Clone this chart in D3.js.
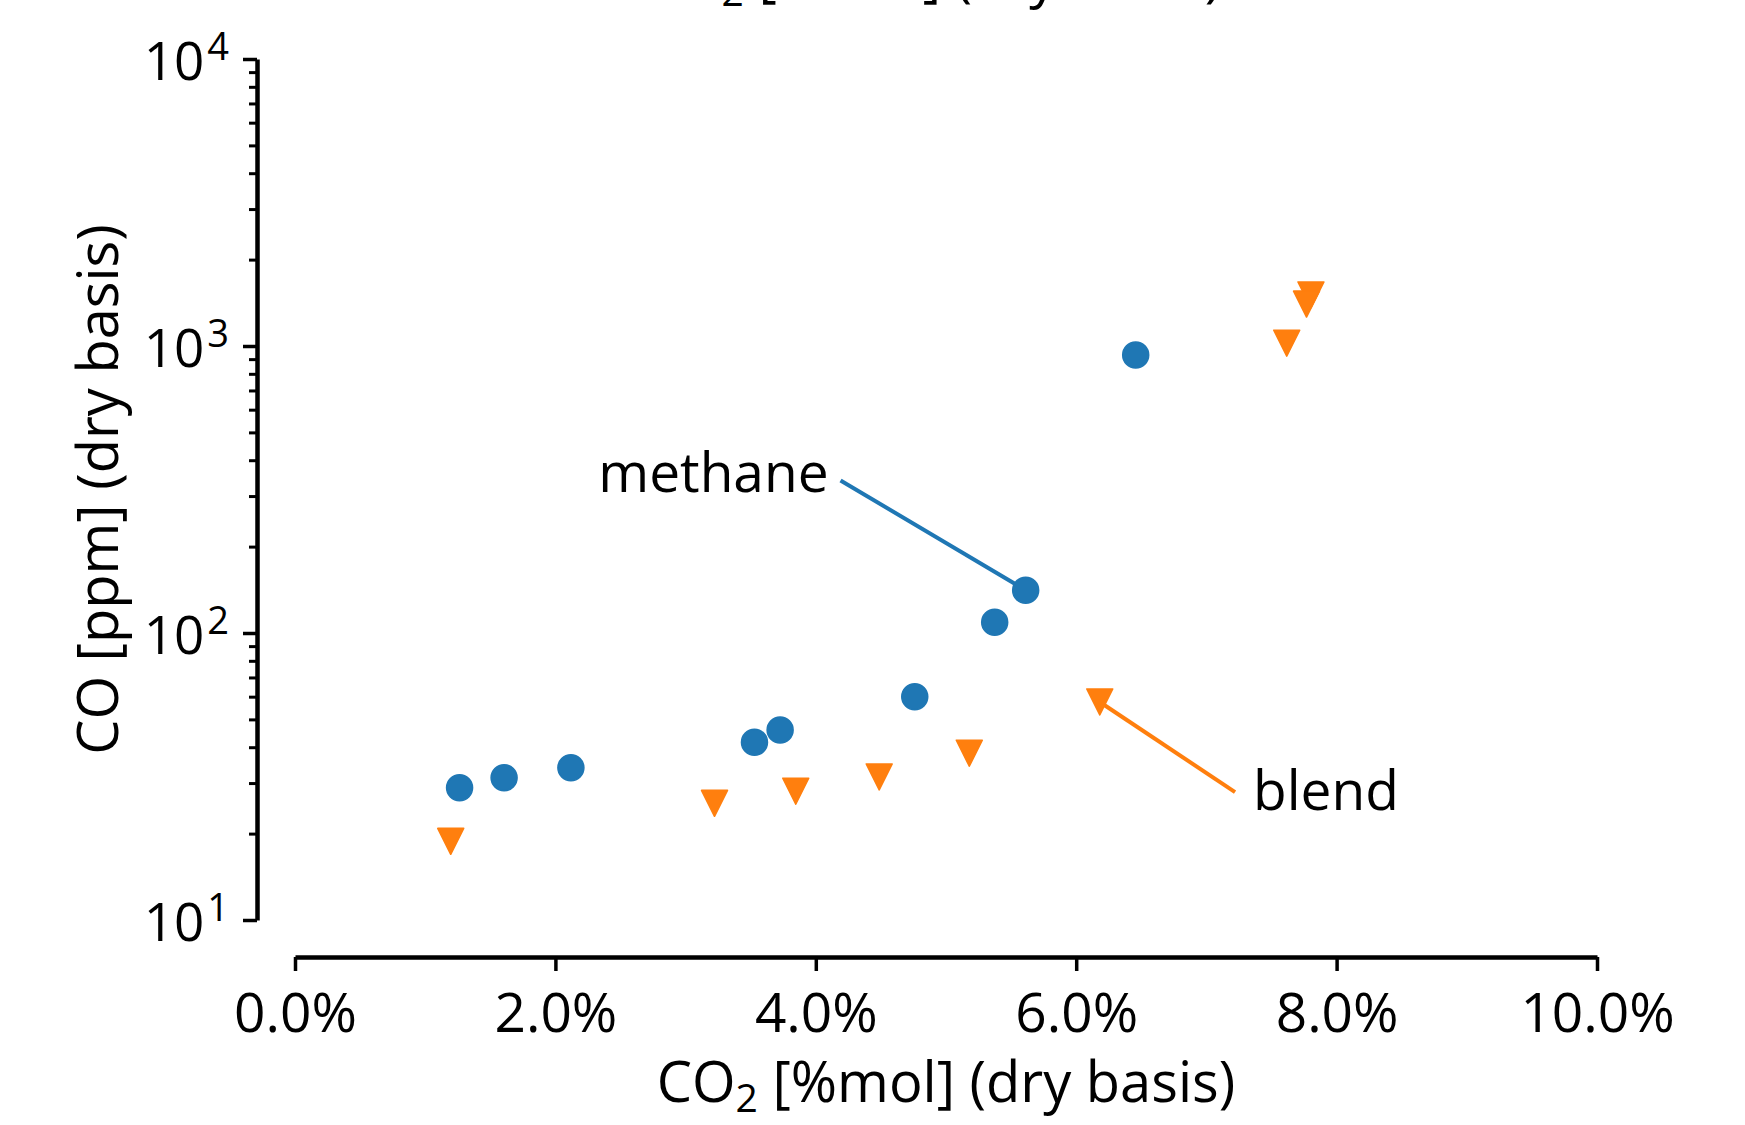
<!DOCTYPE html>
<html>
<head>
<meta charset="utf-8">
<script src="https://cdn.jsdelivr.net/npm/d3@7"></script>
<style>
  html, body { margin: 0; padding: 0; background: #fff; }
  svg { display: block; font-family: "Open Sans", "Noto Sans", sans-serif; }
</style>
</head>
<body>
<svg id="chart" width="1745" height="1125"></svg>
<script>
// CO2 in %mol, CO in ppm, both dry basis
var methaneCO2 = [1.264, 1.606, 2.119, 3.529, 3.726, 4.760, 5.374, 5.612, 6.457];
var methaneCO  = [28.9, 31.3, 33.9, 41.6, 45.9, 60.0, 109, 141, 931];
var blendCO2   = [1.196, 3.222, 3.846, 4.487, 5.179, 6.181, 7.617, 7.803, 7.769];
var blendCO    = [18.8, 25.5, 28.1, 31.5, 38.1, 57.5, 1023, 1507, 1400];

var xTicks = [0, 2, 4, 6, 8, 10];
var yMajor = [10, 100, 1000, 10000];
var yMinor = [];
for (var e = 1; e < 4; e++) {
    for (var m = 2; m < 10; m++) yMinor.push(m * Math.pow(10, e));
}

// annotations: text anchor point in data units, pointing at one of the markers
var annotations = [
    {label: "methane", series: "methane", index: 7, tx: 4.19, ty: 340, side: "left"},
    {label: "blend",   series: "blend",   index: 5, tx: 7.22, ty: 27.9, side: "right"}
];

var colors = {methane: "#1f77b4", blend: "#ff7f0e"};
var fontSize = 55;

var svg = d3.select("#chart");

var x = d3.scaleLinear().domain([0, 10]).range([295, 1597]);
var y = d3.scaleLog().domain([10, 10000]).range([920, 59]);

var xSpine = 957, ySpine = 257;

// x axis (offset spine)
var xAxis = svg.append("g")
    .attr("transform", "translate(0," + xSpine + ")")
    .call(d3.axisBottom(x).tickValues(xTicks).tickSize(14).tickSizeOuter(0)
        .tickFormat(function(d) { return d3.format(".1f")(d) + "%"; }));
xAxis.select(".domain").attr("stroke", "#000").attr("stroke-width", 4.5);
xAxis.selectAll(".tick line").attr("stroke", "#000").attr("stroke-width", 3.5);
xAxis.selectAll(".tick text")
    .attr("y", 75).attr("dy", null)
    .attr("font-size", fontSize).attr("fill", "#000")
    .attr("font-family", "Open Sans");

// y axis, log scale, minor ticks first
var yMinorAxis = svg.append("g")
    .attr("transform", "translate(" + ySpine + ",0)")
    .call(d3.axisLeft(y).tickValues(yMinor).tickSize(8).tickSizeOuter(0).tickFormat(""));
yMinorAxis.select(".domain").remove();
yMinorAxis.selectAll(".tick line").attr("stroke", "#000").attr("stroke-width", 3);

var yAxis = svg.append("g")
    .attr("transform", "translate(" + ySpine + ",0)")
    .call(d3.axisLeft(y).tickValues(yMajor).tickSize(14).tickSizeOuter(0).tickFormat(""));
yAxis.select(".domain").attr("stroke", "#000").attr("stroke-width", 4.5);
yAxis.selectAll(".tick line").attr("stroke", "#000").attr("stroke-width", 3.5);
yAxis.selectAll(".tick text").remove();

var yLabels = yAxis.selectAll(".tick")
    .append("text")
    .attr("x", -28)
    .attr("text-anchor", "end")
    .attr("fill", "#000")
    .attr("font-family", "Open Sans");
yLabels.append("tspan")
    .attr("dy", 20)
    .attr("font-size", 53)
    .text("10");
yLabels.append("tspan")
    .attr("dy", -20)
    .attr("dx", 3)
    .attr("font-size", 38)
    .text(function(d) { return Math.round(Math.log10(d)); });

// axis labels
var xLabel = svg.append("text")
    .attr("x", (x(0) + x(10)) / 2)
    .attr("y", 1102)
    .attr("text-anchor", "middle")
    .attr("font-size", 56)
    .attr("fill", "#000");
xLabel.append("tspan").text("CO");
xLabel.append("tspan").attr("font-size", 39).attr("dy", 10).text("2");
xLabel.append("tspan").attr("dy", -10).text(" [%mol] (dry basis)");

svg.append("text")
    .attr("transform", "translate(118," + ((y(10) + y(10000)) / 2) + ") rotate(-90)")
    .attr("text-anchor", "middle")
    .attr("font-size", 56)
    .attr("fill", "#000")
    .text("CO [ppm] (dry basis)");

// title, mostly outside the top of the figure
var title = svg.append("text")
    .attr("x", (x(0) + x(10)) / 2 - 14)
    .attr("y", -4)
    .attr("text-anchor", "middle")
    .attr("font-size", 56)
    .attr("fill", "#000");
title.append("tspan").text("CO");
title.append("tspan").attr("font-size", 39).attr("dy", 10).text("2");
title.append("tspan").attr("dy", -10).text(" [%mol] (dry basis)");

var series = {
    methane: methaneCO2.map(function(v, i) { return {co2: v, co: methaneCO[i]}; }),
    blend: blendCO2.map(function(v, i) { return {co2: v, co: blendCO[i]}; })
};

// annotation lines, under the markers
annotations.forEach(function(a) {
    var p = series[a.series][a.index];
    var x0 = x(a.tx), y0 = y(a.ty);
    svg.append("line")
        .attr("x1", x0).attr("y1", y0)
        .attr("x2", x(p.co2)).attr("y2", y(p.co))
        .attr("stroke", colors[a.series])
        .attr("stroke-width", 4);
    svg.append("text")
        .attr("x", a.side == "left" ? x0 - 12 : x0 + 18)
        .attr("y", a.side == "left" ? y0 + 12 : y0 + 18)
        .attr("text-anchor", a.side == "left" ? "end" : "start")
        .attr("font-size", fontSize)
        .attr("fill", "#000")
        .text(a.label);
});

// methane: circles
svg.append("g").selectAll("circle")
    .data(series.methane)
    .enter()
    .append("circle")
    .attr("cx", function(d) { return x(d.co2); })
    .attr("cy", function(d) { return y(d.co); })
    .attr("r", 13)
    .attr("fill", colors.methane)
    .attr("stroke", colors.methane)
    .attr("stroke-width", 1.5);

// blend: downward triangles
svg.append("g").selectAll("path")
    .data(series.blend)
    .enter()
    .append("path")
    .attr("d", "M-13,-13L13,-13L0,13Z")
    .attr("transform", function(d) { return "translate(" + x(d.co2) + "," + y(d.co) + ")"; })
    .attr("fill", colors.blend)
    .attr("stroke", colors.blend)
    .attr("stroke-width", 1.5)
    .attr("stroke-linejoin", "round");
</script>
</body>
</html>
